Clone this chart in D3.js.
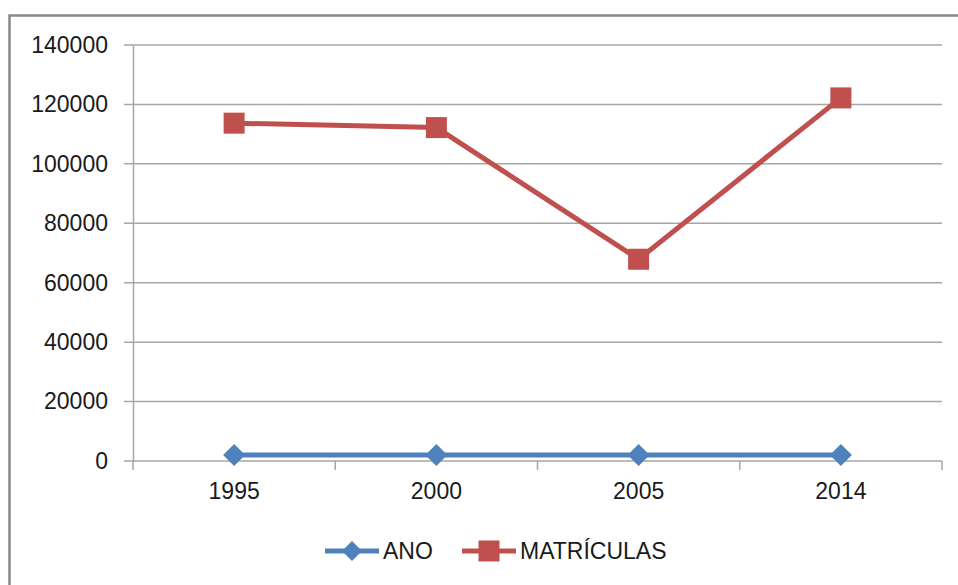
<!DOCTYPE html>
<html lang="en">
  <head>
    <meta charset="utf-8">
    <title>Matrículas</title>
    <style>
      body { margin: 0; background: #fff; }
      svg { display: block; }
    </style>
    <script src="https://d3js.org/d3.v7.min.js"></script>
  </head>
  <body>
    <script>
    // data
    const years = ["1995", "2000", "2005", "2014"];
    const ano = [1995, 2000, 2005, 2014];
    const matriculas = [113700, 112200, 67900, 122200];
    const yTicks = [0, 20000, 40000, 60000, 80000, 100000, 120000, 140000];

    const width = 958, height = 585;
    const plot = { left: 133, right: 942, top: 45, bottom: 461 };
    const font = "'Liberation Sans', Arial, sans-serif";
    const blue = "#4f81bd", red = "#c0504d";

    const svg = d3.select("body")
      .append("svg")
      .attr("width", width)
      .attr("height", height);

    // outer chart frame (runs off the right and bottom edges)
    svg.append("rect")
      .attr("x", 9.5)
      .attr("y", 15.5)
      .attr("width", 980)
      .attr("height", 600)
      .attr("fill", "#fff")
      .attr("stroke", "#888")
      .attr("stroke-width", 2.5);

    const x = d3.scaleBand()
      .domain(years)
      .range([plot.left, plot.right])
      .padding(0);

    const y = d3.scaleLinear()
      .domain([0, 140000])
      .range([plot.bottom, plot.top]);

    // horizontal gridlines
    svg.append("g")
      .selectAll("line")
      .data(yTicks)
      .join("line")
      .attr("x1", plot.left - 9)
      .attr("x2", plot.right)
      .attr("y1", d => y(d))
      .attr("y2", d => y(d))
      .attr("stroke", "#a6a6a6")
      .attr("stroke-width", 1.5);

    // y axis
    const yAxis = svg.append("g")
      .attr("transform", `translate(${plot.left},0)`)
      .call(d3.axisLeft(y).tickValues(yTicks).tickFormat(d3.format("d")).tickSize(0).tickPadding(25));
    yAxis.select(".domain").attr("stroke", "#a6a6a6").attr("stroke-width", 1.5);
    yAxis.selectAll("text")
      .style("font-family", font)
      .style("font-size", "23px")
      .attr("fill", "#1a1a1a");

    // x axis with ticks between categories
    const xAxis = svg.append("g")
      .attr("transform", `translate(0,${plot.bottom})`)
      .call(d3.axisBottom(x).tickSize(0).tickPadding(22));
    xAxis.select(".domain").remove();
    xAxis.selectAll("text")
      .style("font-family", font)
      .style("font-size", "23px")
      .attr("fill", "#1a1a1a");
    xAxis.selectAll(".sep")
      .data(d3.range(years.length + 1))
      .join("line")
      .attr("class", "sep")
      .attr("x1", i => plot.left + i * x.step())
      .attr("x2", i => plot.left + i * x.step())
      .attr("y1", 0)
      .attr("y2", 9)
      .attr("stroke", "#a6a6a6")
      .attr("stroke-width", 1.5);

    const cx = d => x(d) + x.bandwidth() / 2;
    const line = d3.line()
      .x(d => cx(d.year))
      .y(d => y(d.value));

    const anoData = years.map((yr, i) => ({ year: yr, value: ano[i] }));
    const matData = years.map((yr, i) => ({ year: yr, value: matriculas[i] }));

    // ANO series
    svg.append("path")
      .datum(anoData)
      .attr("fill", "none")
      .attr("stroke", blue)
      .attr("stroke-width", 5)
      .attr("d", line);
    svg.append("g")
      .selectAll("path")
      .data(anoData)
      .join("path")
      .attr("d", "M0,-11L11,0L0,11L-11,0Z")
      .attr("transform", d => `translate(${cx(d.year)},${y(d.value)})`)
      .attr("fill", blue);

    // MATRÍCULAS series
    svg.append("path")
      .datum(matData)
      .attr("fill", "none")
      .attr("stroke", red)
      .attr("stroke-width", 5)
      .attr("d", line);
    svg.append("g")
      .selectAll("rect")
      .data(matData)
      .join("rect")
      .attr("x", d => cx(d.year) - 10.5)
      .attr("y", d => y(d.value) - 10.5)
      .attr("width", 21)
      .attr("height", 21)
      .attr("fill", red);

    // legend
    const legend = svg.append("g").attr("transform", "translate(0,551)");
    const items = [
      { name: "ANO", color: blue, x0: 325, shape: "diamond" },
      { name: "MATRÍCULAS", color: red, x0: 462, shape: "square" }
    ];
    items.forEach(it => {
      const g = legend.append("g").attr("transform", `translate(${it.x0},0)`);
      g.append("line")
        .attr("x1", 0).attr("x2", 54)
        .attr("y1", 0).attr("y2", 0)
        .attr("stroke", it.color)
        .attr("stroke-width", 5);
      if (it.shape === "diamond") {
        g.append("path")
          .attr("d", "M27,-10L37,0L27,10L17,0Z")
          .attr("fill", it.color);
      } else {
        g.append("rect")
          .attr("x", 16.5).attr("y", -10.5)
          .attr("width", 21).attr("height", 21)
          .attr("fill", it.color);
      }
      g.append("text")
        .attr("x", 58)
        .attr("y", 0)
        .attr("dy", "0.35em")
        .style("font-family", font)
        .style("font-size", "23px")
        .attr("fill", "#1a1a1a")
        .text(it.name);
    });
    </script>
  </body>
</html>
